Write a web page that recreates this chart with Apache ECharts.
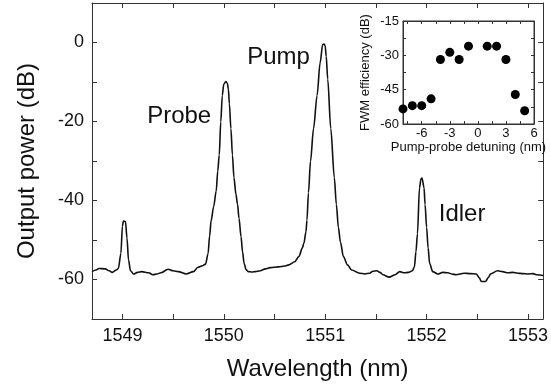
<!DOCTYPE html>
<html>
<head>
<meta charset="utf-8">
<script src="https://cdn.jsdelivr.net/npm/echarts@6/dist/echarts.min.js"></script>
<style>
  html, body { margin: 0; padding: 0; background: #fff; }
  #chart { width: 551px; height: 386px; }
</style>
</head>
<body>
<div id="chart"></div>
<script>
// spectrum trace (nm, dB)
var wavelength = [
  1548.70, 1548.74, 1548.77, 1548.83, 1548.87, 1548.90, 1548.94, 1548.96, 1548.985, 1549.00,
  1549.01, 1549.03, 1549.045, 1549.06, 1549.08, 1549.11, 1549.15, 1549.19, 1549.26, 1549.30,
  1549.34, 1549.38, 1549.45, 1549.50, 1549.55, 1549.63, 1549.70, 1549.745, 1549.79, 1549.82,
  1549.845, 1549.86, 1549.875, 1549.90, 1549.925, 1549.94, 1549.955, 1549.97, 1549.985, 1550.00,
  1550.02, 1550.035, 1550.045, 1550.055, 1550.07, 1550.085, 1550.10, 1550.12, 1550.135, 1550.15,
  1550.17, 1550.185, 1550.20, 1550.22, 1550.24, 1550.28, 1550.31, 1550.36, 1550.41, 1550.46,
  1550.54, 1550.60, 1550.64, 1550.70, 1550.74, 1550.775, 1550.79, 1550.81, 1550.82, 1550.835,
  1550.855, 1550.885, 1550.92, 1550.95, 1550.975, 1550.99, 1551.00, 1551.01, 1551.025, 1551.055,
  1551.09, 1551.11, 1551.13, 1551.15, 1551.18, 1551.22, 1551.26, 1551.34, 1551.39, 1551.44,
  1551.47, 1551.51, 1551.54, 1551.57, 1551.63, 1551.69, 1551.735, 1551.78, 1551.82, 1551.86,
  1551.88, 1551.895, 1551.91, 1551.93, 1551.945, 1551.955, 1551.975, 1551.985, 1552.00, 1552.015,
  1552.03, 1552.06, 1552.11, 1552.16, 1552.21, 1552.25, 1552.29, 1552.37, 1552.43, 1552.49,
  1552.52, 1552.54, 1552.58, 1552.61, 1552.63, 1552.70, 1552.75, 1552.80, 1552.85, 1552.90,
  1552.95, 1553.00, 1553.05, 1553.09, 1553.15
];
var power = [
  -58.0, -57.6, -57.2, -57.3, -57.8, -58.2, -57.6, -57.2, -53.4, -46.5,
  -45.2, -45.3, -49.5, -55.0, -57.8, -58.6, -58.2, -58.0, -58.3, -58.8,
  -58.6, -58.3, -57.4, -57.8, -58.0, -58.6, -58.0, -56.9, -56.5, -56.1,
  -53.4, -49.0, -45.1, -41.5, -37.6, -32.6, -28.5, -20.1, -13.4, -10.5,
  -9.9, -10.3, -11.8, -15.5, -21.8, -28.5, -34.2, -38.5, -40.9, -44.5,
  -49.2, -53.0, -55.9, -57.5, -58.0, -58.1, -58.0, -57.8, -57.3, -57.0,
  -56.8, -56.6, -56.3, -55.5, -54.2, -52.0, -50.8, -48.0, -45.0, -38.0,
  -30.1, -21.8, -13.4, -5.1, -0.5, -0.4, -0.9, -3.5, -9.3, -21.8,
  -34.2, -41.0, -46.8, -50.5, -54.2, -56.3, -57.6, -58.4, -58.6, -58.4,
  -57.9, -57.8, -58.2, -58.8, -59.4, -58.8, -58.0, -58.3, -58.2, -57.8,
  -56.8, -53.0, -48.4, -36.8, -34.5, -34.3, -36.8, -41.0, -46.8, -52.0,
  -55.9, -58.0, -58.6, -58.2, -58.3, -58.6, -58.8, -58.4, -58.5, -58.6,
  -59.6, -60.5, -60.5, -59.5, -58.6, -57.8, -58.0, -58.3, -58.2, -58.4,
  -58.5, -58.6, -58.5, -58.8, -59.0
];

// inset: FWM efficiency vs pump-probe detuning
var detuning = [-8, -7, -6, -5, -4, -3, -2, -1, 1, 2, 3, 4, 5];
var efficiency = [-53.4, -52, -52, -49, -31.8, -28.7, -31.8, -26, -26, -26, -31.8, -47.1, -54.2];

// ticks and labels
var wlTicks = [1549, 1549.5, 1550, 1550.5, 1551, 1551.5, 1552, 1552.5, 1553];
var wlLabels = [1549, 1550, 1551, 1552, 1553];
var powerTicks = [-60, -50, -40, -30, -20, -10, 0];
var powerLabels = [-60, -40, -20, 0];
var detTicks = [-7.5, -6, -4.5, -3, -1.5, 0, 1.5, 3, 4.5, 6];
var detLabels = [-6, -3, 0, 3, 6];
var effTicks = [-52.5, -45, -37.5, -30, -22.5];
var effLabels = [-60, -45, -30, -15];

var font = 'Liberation Sans, Arial, sans-serif';
var ink = '#111';
var frame = '#333';

function axisBase (gridIndex, min, max, ticks, tickLen) {
  return {
    type: 'value',
    gridIndex: gridIndex,
    min: min,
    max: max,
    splitLine: { show: false },
    axisLine: { show: true, onZero: false, lineStyle: { color: frame, width: 1 } },
    axisTick: { show: true, inside: true, length: tickLen, customValues: ticks, lineStyle: { color: frame } },
    axisLabel: { show: false }
  }
}

function withLabels (axis, labels, size, margin) {
  axis.axisLabel = {
    show: true,
    customValues: labels,
    formatter: function (v) { return String(v) },
    color: ink,
    fontFamily: font,
    fontSize: size,
    margin: margin
  }
  return axis
}

var xMain = withLabels(axisBase(0, 1548.7, 1553.15, wlTicks, 5), wlLabels, 18, 8)
xMain.position = 'bottom'
xMain.name = 'Wavelength (nm)'
xMain.nameLocation = 'middle'
xMain.nameGap = 38
xMain.nameTextStyle = { color: ink, fontFamily: font, fontSize: 24 }
var xMainTop = axisBase(0, 1548.7, 1553.15, wlTicks, 5)
xMainTop.position = 'top'

var yMain = withLabels(axisBase(0, -70, 10, powerTicks, 5), powerLabels, 18, 8)
yMain.position = 'left'
yMain.name = 'Output power (dB)'
yMain.nameLocation = 'middle'
yMain.nameGap = 53
yMain.nameTextStyle = { color: ink, fontFamily: font, fontSize: 24 }
var yMainRight = axisBase(0, -70, 10, powerTicks, 5)
yMainRight.position = 'right'

var xInset = withLabels(axisBase(1, -8, 6, detTicks, 3), detLabels, 13, 3)
xInset.position = 'bottom'
xInset.name = 'Pump-probe detuning (nm)'
xInset.nameLocation = 'middle'
xInset.nameGap = 13
xInset.nameTextStyle = { color: ink, fontFamily: font, fontSize: 13 }
var xInsetTop = axisBase(1, -8, 6, detTicks, 3)
xInsetTop.position = 'top'

var yInset = withLabels(axisBase(1, -60, -15, effTicks, 3), effLabels, 13, 4)
yInset.position = 'left'
yInset.name = 'FWM efficiency (dB)'
yInset.nameLocation = 'middle'
yInset.nameGap = 31
yInset.nameTextStyle = { color: ink, fontFamily: font, fontSize: 13 }
var yInsetRight = axisBase(1, -60, -15, effTicks, 3)
yInsetRight.position = 'right'

var option = {
  backgroundColor: '#fff',
  animation: false,
  grid: [
    { left: 92, top: 3, right: 5, bottom: 63, containLabel: false },
    { left: 403, top: 21, width: 131, height: 103, containLabel: false, show: true, backgroundColor: '#fff', borderColor: frame, borderWidth: 1 }
  ],
  xAxis: [xMain, xMainTop, xInset, xInsetTop],
  yAxis: [yMain, yMainRight, yInset, yInsetRight],
  series: [
    {
      type: 'line',
      xAxisIndex: 0,
      yAxisIndex: 0,
      data: wavelength.map(function (w, i) { return [w, power[i]] }),
      showSymbol: false,
      smooth: 0.3,
      smoothMonotone: 'x',
      lineStyle: { color: ink, width: 1.6 },
      markPoint: {
        symbol: 'circle',
        symbolSize: 0,
        label: { show: true, position: 'inside', formatter: '{b}', color: ink, fontFamily: font, fontSize: 24 },
        data: [
          { name: 'Probe', coord: [1549.56, -18.8] },
          { name: 'Pump', coord: [1550.54, -3.8] },
          { name: 'Idler', coord: [1552.35, -43.5] }
        ]
      }
    },
    {
      type: 'scatter',
      xAxisIndex: 2,
      yAxisIndex: 2,
      data: detuning.map(function (d, i) { return [d, efficiency[i]] }),
      symbol: 'circle',
      symbolSize: 9,
      itemStyle: { color: '#000', opacity: 1 }
    }
  ]
}

var chart = echarts.init(document.getElementById('chart'), null, { renderer: 'canvas' })
chart.setOption(option)
</script>
</body>
</html>
